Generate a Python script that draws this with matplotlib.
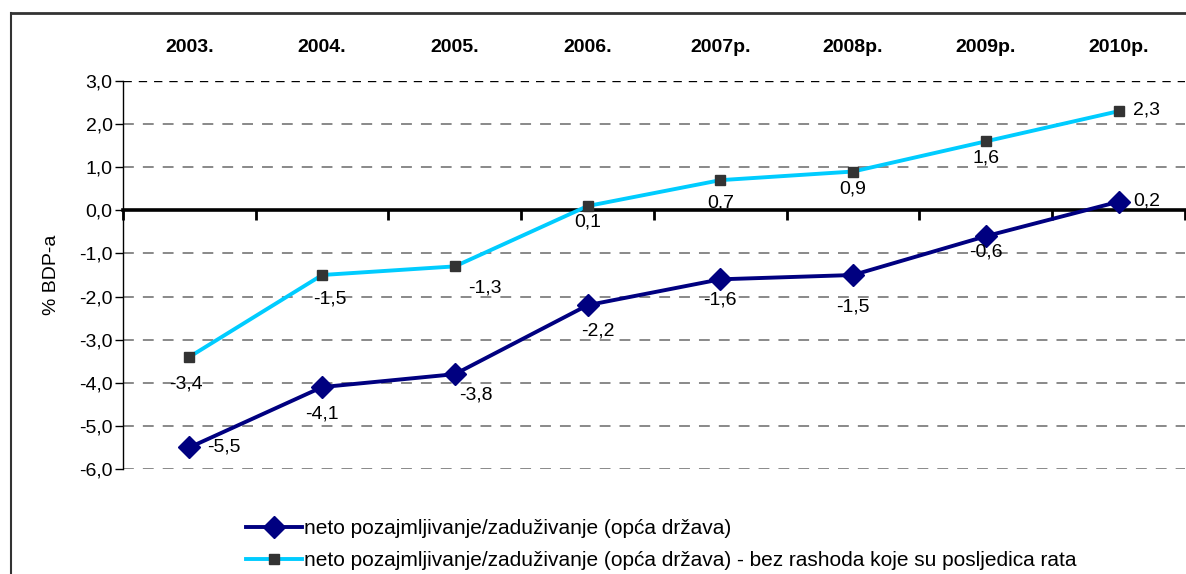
import matplotlib
matplotlib.use("Agg")
import matplotlib.pyplot as plt
from matplotlib.lines import Line2D

plt.rcParams['font.family'] = ['Liberation Sans', 'DejaVu Sans']

years = ["2003.", "2004.", "2005.", "2006.", "2007p.", "2008p.", "2009p.", "2010p."]
neto = [-5.5, -4.1, -3.8, -2.2, -1.6, -1.5, -0.6, 0.2]
bez_rata = [-3.4, -1.5, -1.3, 0.1, 0.7, 0.9, 1.6, 2.3]
yticks = [3, 2, 1, 0, -1, -2, -3, -4, -5, -6]

# label offsets in pixels (dx, dy) relative to the marker
neto_off = [(34, 0), (0, -27), (21, -21), (10, -26), (0, -21), (0, -32), (0, -16), (28, 1)]
bez_off = [(-3, -27), (8, -24), (30, -22), (0, -16), (0, -23), (0, -17), (0, -17), (28, 1)]

FS = 14

fig = plt.figure(figsize=(11.86, 5.74), dpi=100)
ax = fig.add_axes([123/1186, 1-469/574, 1062/1186, 388/574])

x = list(range(len(years)))
ax.plot(x, bez_rata, color='#00CCFF', lw=2.8, marker='s', ms=7,
        mfc='#333333', mec='#333333', zorder=4,
        label='neto pozajmljivanje/zaduživanje (opća država) - bez rashoda koje su posljedica rata')
ax.plot(x, neto, color='#000080', lw=2.8, marker='D', ms=11,
        mfc='#000080', mec='#000080', zorder=5,
        label='neto pozajmljivanje/zaduživanje (opća država)')

def fmt(v):
    return ("%.1f" % v).replace('.', ',')

for i, v in enumerate(neto):
    ax.annotate(fmt(v), (i, v), xytext=neto_off[i], textcoords='offset pixels',
                ha='center', va='center', fontsize=FS, zorder=6)
for i, v in enumerate(bez_rata):
    ax.annotate(fmt(v), (i, v), xytext=bez_off[i], textcoords='offset pixels',
                ha='center', va='center', fontsize=FS, zorder=6)

ax.set_xlim(-0.5, 7.5)
ax.set_ylim(-6, 3)
ax.set_yticks(yticks)
ax.set_yticklabels([fmt(v) for v in yticks], fontsize=FS)
ax.tick_params(axis='y', length=6, width=1, pad=1.5)
for v in yticks:
    if v == 3:
        ax.axhline(v, color='black', lw=1, ls=(0, (6, 5)), zorder=1)
    elif v != 0:
        ax.axhline(v, color='#808080', lw=1.3, ls=(0, (6, 5)), zorder=1)

ax.spines['top'].set_visible(False)
ax.spines['right'].set_visible(False)
ax.spines['bottom'].set_position(('data', 0))
ax.spines['bottom'].set_linewidth(2.6)
ax.spines['left'].set_linewidth(1)

ax.set_xticks(x)
ax.set_xticklabels(years, fontsize=FS, fontweight='bold')
ax.set_xticks([i - 0.5 for i in range(len(years) + 1)], minor=True)
ax.tick_params(axis='x', which='major', bottom=False, top=True, labelbottom=False,
               labeltop=True, length=0, pad=18)
ax.tick_params(axis='x', which='minor', bottom=True, direction='out', length=7, width=2)

ax.set_ylabel('% BDP-a', fontsize=FS, labelpad=14)

fig.legend(loc='upper left', bbox_to_anchor=(236/1186, 1-509/574), frameon=False,
           fontsize=15, handlelength=2.65, handletextpad=0.12, borderpad=0,
           labelspacing=0.6, reverse=True)

# outer chart border (top and left edges visible)
fig.add_artist(Line2D([11/1186, 1], [1-13/574, 1-13/574], color='#333333', lw=2,
                      transform=fig.transFigure))
fig.add_artist(Line2D([11/1186, 11/1186], [0, 1-13/574], color='#333333', lw=1.5,
                      transform=fig.transFigure))

fig.savefig('out.png', dpi=100)
